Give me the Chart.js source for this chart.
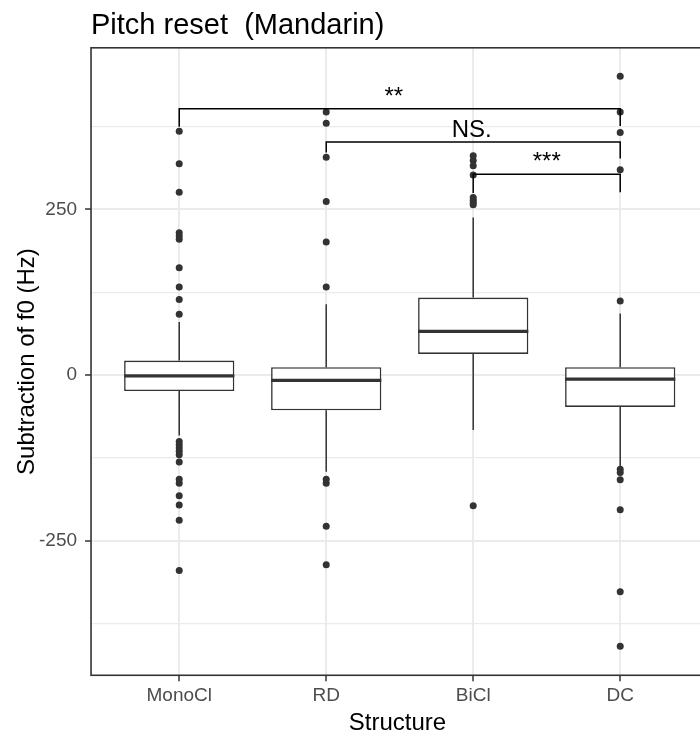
<!DOCTYPE html>
<html>
<head>
<meta charset="utf-8">
<title>Pitch reset (Mandarin)</title>
<script src="https://cdn.jsdelivr.net/npm/chart.js@4"></script>
<style>
  html, body { margin: 0; padding: 0; overflow: hidden; background: #fff; }
  #wrap { width: 708px; height: 736px; }
</style>
</head>
<body>
<div id="wrap"><canvas id="pitch-chart"></canvas></div>
<script>
// categories and box statistics (Hz)
const categories = ["MonoCl", "RD", "BiCl", "DC"];
const q1 = [-24, -53, 32, -48];
const medians = [-1, -8, 66, -6];
const q3 = [22, 12, 117, 12];
const whiskerLow = [-91, -146, -83, -138];
const whiskerHigh = [80, 107, 238, 93];

// outliers per category
const outliers = [
  [368, 319, 276, 215, 210, 205, 162, 133, 114, 92,
   -100, -105, -110, -115, -120, -131, -157, -163, -182, -196, -219, -295],
  [397, 380, 329, 262, 201, 133, -157, -163, -228, -286],
  [331, 324, 316, 302, 268, 264, 260, 257, -197],
  [451, 397, 366, 310, 112, -142, -147, -158, -203, -327, -409],
];

// significance brackets
const sigFrom = [1, 2, 3];
const sigTo = [4, 4, 4];
const sigHeight = [402, 352, 303];
const sigLegFrom = [375, 336, 275];
const sigLegTo = [376, 327, 276];
const sigLabels = ["**", "NS.", "***"];
const sigLabelX = [2.46, 2.99, 3.5];

// axis ticks
const yTicks = [-375, -250, -125, 0, 125, 250, 375];
const yMajor = [-250, 0, 250];
const xTicks = [1, 2, 3, 4];

const boxWidth = 0.75;
const ink = "#333333";
const FONT = "'Liberation Sans', Arial, sans-serif";

const boxData = categories.map((c, i) => ({ x: i + 1, y: [q1[i], q3[i]] }));

const whiskerData = [];
categories.forEach((c, i) => {
  whiskerData.push({ x: i + 1, y: whiskerLow[i] }, { x: i + 1, y: q1[i] }, { x: i + 1, y: null });
  whiskerData.push({ x: i + 1, y: q3[i] }, { x: i + 1, y: whiskerHigh[i] }, { x: i + 1, y: null });
});

const medianData = [];
categories.forEach((c, i) => {
  medianData.push(
    { x: i + 1 - boxWidth / 2, y: medians[i] },
    { x: i + 1 + boxWidth / 2, y: medians[i] },
    { x: i + 1, y: null }
  );
});

const outlierData = [];
outliers.forEach((list, i) => {
  list.forEach((v) => outlierData.push({ x: i + 1, y: v }));
});

const bracketData = [];
sigFrom.forEach((a, i) => {
  const b = sigTo[i];
  bracketData.push(
    { x: a, y: sigLegFrom[i] },
    { x: a, y: sigHeight[i] },
    { x: b, y: sigHeight[i] },
    { x: b, y: sigLegTo[i] },
    { x: b, y: null }
  );
});

// panel border + bracket labels
const panelPlugin = {
  id: "panel",
  afterDatasetsDraw(chart) {
    const { ctx, chartArea, scales } = chart;
    ctx.save();
    ctx.strokeStyle = ink;
    ctx.lineWidth = 1.6;
    ctx.strokeRect(chartArea.left, chartArea.top, chartArea.right - chartArea.left, chartArea.bottom - chartArea.top);

    ctx.fillStyle = "#000";
    ctx.font = "24px " + FONT;
    ctx.textAlign = "center";
    ctx.textBaseline = "alphabetic";
    sigLabels.forEach((txt, i) => {
      const px = scales.x.getPixelForValue(sigLabelX[i]);
      const py = scales.y.getPixelForValue(sigHeight[i]) - 5;
      ctx.fillText(txt, px, py);
    });
    ctx.restore();
  },
};

const canvas = document.getElementById("pitch-chart");
new Chart(canvas, {
  type: "bar",
  data: {
    datasets: [
      {
        type: "line",
        data: whiskerData,
        borderColor: ink,
        borderWidth: 1.5,
        pointRadius: 0,
        spanGaps: false,
        fill: false,
        order: 5,
      },
      {
        type: "bar",
        data: boxData,
        backgroundColor: "#ffffff",
        borderColor: ink,
        borderWidth: 1.6,
        borderSkipped: false,
        barPercentage: boxWidth,
        categoryPercentage: 1,
        order: 4,
      },
      {
        type: "line",
        data: medianData,
        borderColor: ink,
        borderWidth: 3.2,
        pointRadius: 0,
        spanGaps: false,
        fill: false,
        order: 3,
      },
      {
        type: "scatter",
        data: outlierData,
        backgroundColor: ink,
        borderColor: ink,
        pointRadius: 3.5,
        borderWidth: 0,
        order: 2,
      },
      {
        type: "line",
        data: bracketData,
        borderColor: "#000",
        borderWidth: 1.5,
        pointRadius: 0,
        spanGaps: false,
        fill: false,
        order: 1,
      },
    ],
  },
  options: {
    responsive: true,
    maintainAspectRatio: false,
    animation: false,
    layout: { padding: { top: 0, left: 0, right: 0, bottom: 0 } },
    plugins: {
      legend: { display: false },
      tooltip: { enabled: false },
      title: {
        display: true,
        text: "Pitch reset  (Mandarin)",
        align: "start",
        fullSize: false,
        color: "#000",
        font: { family: FONT, size: 29, weight: "normal" },
        padding: { top: 9, bottom: 4 },
      },
    },
    scales: {
      x: {
        type: "linear",
        min: 0.4,
        max: 4.57,
        offset: false,
        afterBuildTicks: (scale) => {
          scale.ticks = xTicks.map((v) => ({ value: v }));
        },
        ticks: {
          color: "#4d4d4d",
          font: { family: FONT, size: 19 },
          padding: 3,
          autoSkip: false,
          maxRotation: 0,
          callback: (v) => categories[v - 1] || "",
        },
        grid: {
          offset: false,
          color: "#ebebeb",
          lineWidth: 2,
          tickLength: 6,
          tickColor: ink,
          tickWidth: 1.5,
        },
        border: { display: false },
        title: {
          display: true,
          text: "Structure",
          color: "#000",
          font: { family: FONT, size: 24, lineHeight: 1.08 },
          padding: { top: 0, bottom: 0 },
        },
      },
      y: {
        type: "linear",
        min: -453,
        max: 494,
        afterBuildTicks: (scale) => {
          scale.ticks = yTicks.map((v) => ({ value: v }));
        },
        ticks: {
          color: "#4d4d4d",
          font: { family: FONT, size: 19 },
          padding: 8,
          autoSkip: false,
          callback: (v) => (yMajor.includes(v) ? String(v) : ""),
        },
        grid: {
          color: "#ebebeb",
          lineWidth: (ctx) => (yMajor.includes(ctx.tick.value) ? 2 : 1.2),
          tickLength: 6,
          tickColor: (ctx) => (yMajor.includes(ctx.tick.value) ? ink : "rgba(0,0,0,0)"),
          tickWidth: 1.5,
        },
        border: { display: false },
        title: {
          display: true,
          text: "Subtraction of f0 (Hz)",
          color: "#000",
          font: { family: FONT, size: 24 },
          padding: { top: 13, bottom: -10.8 },
        },
      },
    },
  },
  plugins: [panelPlugin],
});
</script>
</body>
</html>
